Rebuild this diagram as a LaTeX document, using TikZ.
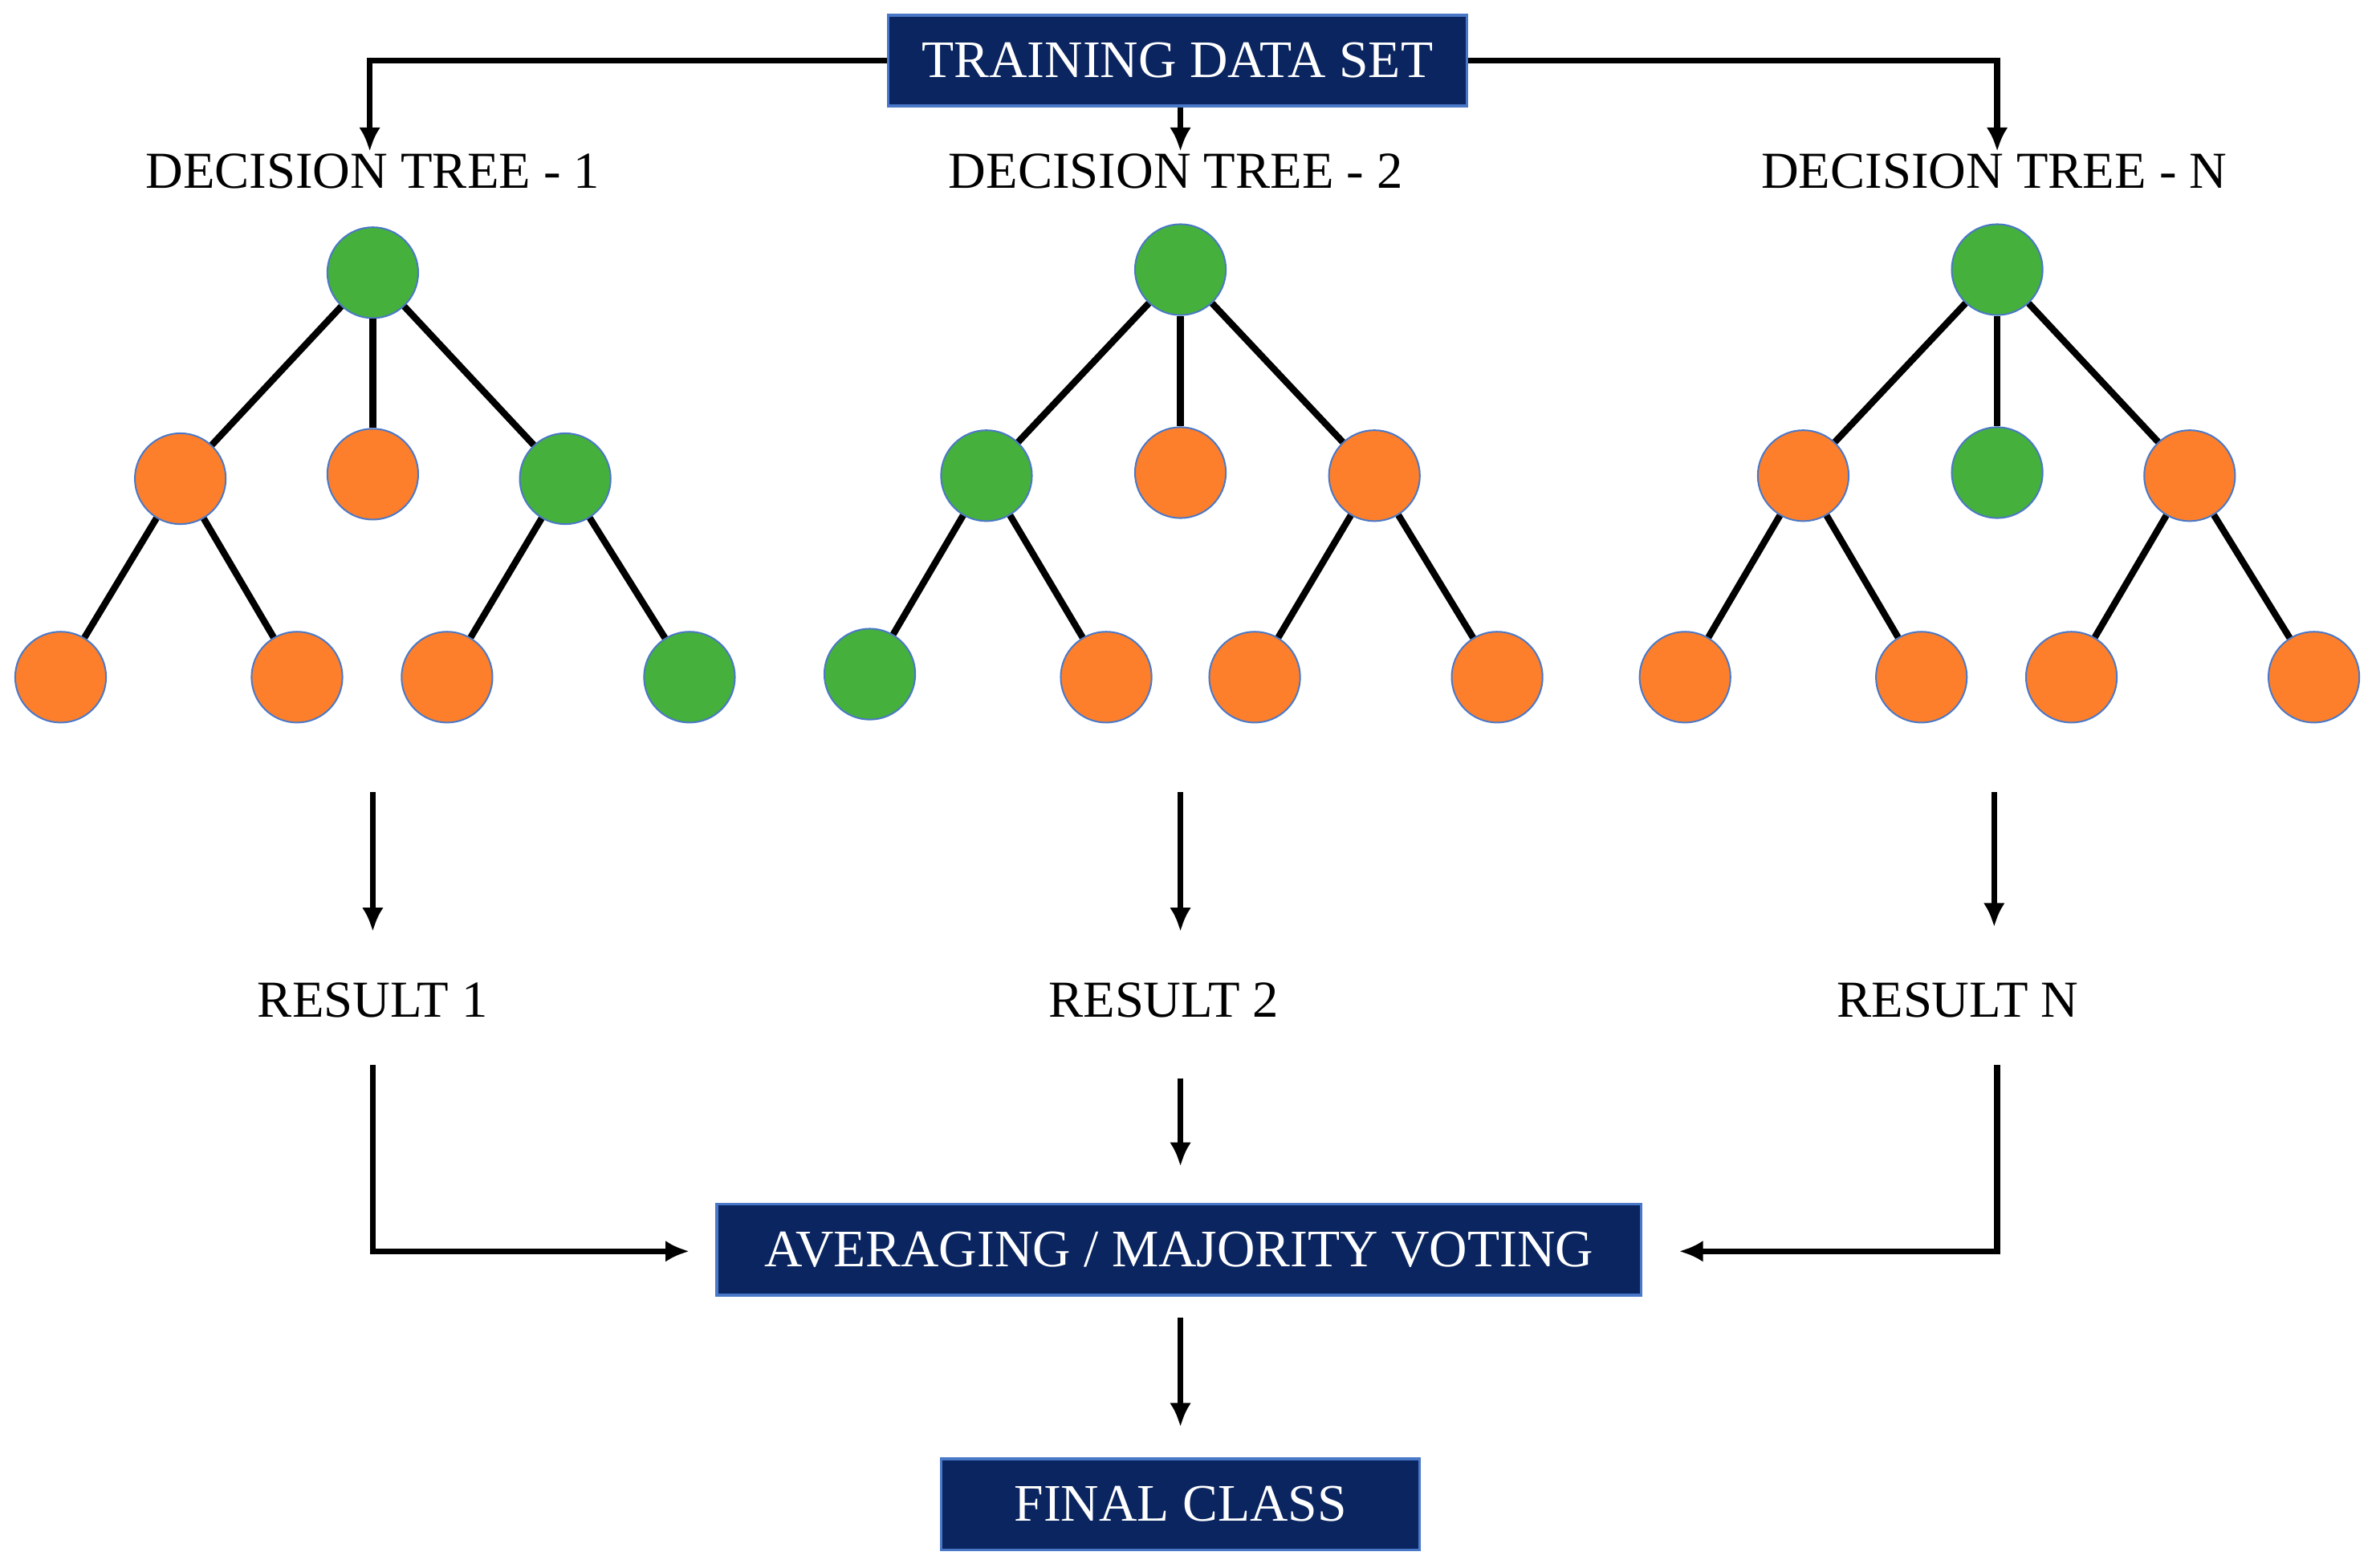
\documentclass[tikz,border=0pt]{standalone}
\usepackage{fontspec}
\setmainfont{Liberation Serif}
\usetikzlibrary{arrows.meta}
\definecolor{navy}{HTML}{0A2560}
\definecolor{gr}{HTML}{45B03B}
\definecolor{orr}{HTML}{FD7F2B}
\definecolor{rim}{HTML}{4A78C8}
\begin{document}
\begin{tikzpicture}[x=0.02cm,y=-0.02cm,
  g/.style={circle,fill=gr,draw=rim,line width=0.6pt,minimum size=1.2cm,inner sep=0pt},
  o/.style={circle,fill=orr,draw=rim,line width=0.6pt,minimum size=1.2cm,inner sep=0pt},
  edge/.style={line width=2.5pt,black},
  arr/.style={line width=2.2pt,black,-{Latex[length=9pt,width=8pt]}},
  box/.style={fill=navy,draw=rim,line width=1pt,text=white,font=\fontsize{19.8}{22}\selectfont,inner sep=0pt,minimum height=1.2cm},
  lab/.style={font=\fontsize{19.5}{22}\selectfont,inner sep=0pt}]
\useasboundingbox (0,0) rectangle (1568,1035);
\node[box,minimum width=7.64cm] (top) at (777,40) {TRAINING DATA SET};
\node[lab] (t1) at (246,113) {DECISION TREE - 1};
\node[lab] (t2) at (776,113) {DECISION TREE - 2};
\node[lab] (tn) at (1316,113) {DECISION TREE - N};
\coordinate (a1) at (244,100); \coordinate (a2) at (779,100); \coordinate (an) at (1318,100);
\draw[arr] (top.west) -| (a1);
\draw[arr] (top.east) -| (an);
\draw[arr] (top.south -| a2) -- (a2);
% tree 1
\node[g] (r1) at (246,180) {};
\node[o] (b11) at (119,316) {}; \node[o] (b12) at (246,313) {}; \node[g] (b13) at (373,316) {};
\node[o] (l11) at (40,447) {}; \node[o] (l12) at (196,447) {}; \node[o] (l13) at (295,447) {}; \node[g] (l14) at (455,447) {};
% tree 2
\node[g] (r2) at (779,178) {};
\node[g] (b21) at (651,314) {}; \node[o] (b22) at (779,312) {}; \node[o] (b23) at (907,314) {};
\node[g] (l21) at (574,445) {}; \node[o] (l22) at (730,447) {}; \node[o] (l23) at (828,447) {}; \node[o] (l24) at (988,447) {};
% tree N
\node[g] (rn) at (1318,178) {};
\node[o] (bn1) at (1190,314) {}; \node[g] (bn2) at (1318,312) {}; \node[o] (bn3) at (1445,314) {};
\node[o] (ln1) at (1112,447) {}; \node[o] (ln2) at (1268,447) {}; \node[o] (ln3) at (1367,447) {}; \node[o] (ln4) at (1527,447) {};
\foreach \t in {1,2,n}{
  \draw[edge] (r\t) -- (b\t1); \draw[edge] (r\t) -- (b\t2); \draw[edge] (r\t) -- (b\t3);
  \draw[edge] (b\t1) -- (l\t1); \draw[edge] (b\t1) -- (l\t2);
  \draw[edge] (b\t3) -- (l\t3); \draw[edge] (b\t3) -- (l\t4);
}
% results
\node[lab] (res1) at (246,660) {RESULT 1};
\node[lab] (res2) at (768,660) {RESULT 2};
\node[lab] (resn) at (1292,660) {RESULT N};
\coordinate (s1) at (246,523); \coordinate (e1) at (246,615);
\coordinate (s2) at (779,523); \coordinate (e2) at (779,615);
\coordinate (sn) at (1316,523); \coordinate (en) at (1316,612);
\draw[arr] (s1) -- (e1); \draw[arr] (s2) -- (e2); \draw[arr] (sn) -- (en);
\node[box,minimum width=12.2cm] (vote) at (778,825) {AVERAGING / MAJORITY VOTING};
\node[box,minimum width=6.32cm] (final) at (779,993) {FINAL CLASS};
\coordinate (v1) at (246,703); \coordinate (w1) at (455,826);
\coordinate (vn) at (1318,703); \coordinate (wn) at (1108,826);
\coordinate (v2) at (779,712); \coordinate (w2) at (779,770);
\coordinate (f1) at (779,870); \coordinate (f2) at (779,942);
\draw[arr] (v1) |- (w1);
\draw[arr] (vn) |- (wn);
\draw[arr] (v2) -- (w2);
\draw[arr] (f1) -- (f2);
\end{tikzpicture}
\end{document}
